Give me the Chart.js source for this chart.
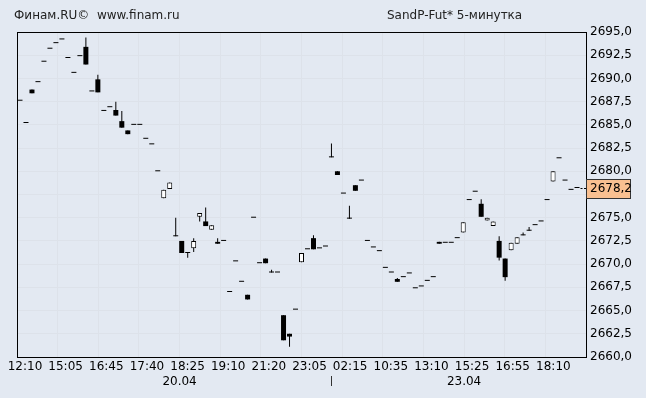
<!DOCTYPE html>
<html>
<head>
<meta charset="utf-8">
<script src="https://cdn.jsdelivr.net/npm/chart.js@4.4.1/dist/chart.umd.min.js"></script>
<style>
  html, body { margin: 0; padding: 0; background: #e3e9f2; }
  #wrap { position: relative; width: 646px; height: 398px; }
  .title { position: absolute; top: 8px; font: 12px "DejaVu Sans", sans-serif; color: #222; white-space: pre; }
</style>
</head>
<body>
<div id="wrap">
  <span class="title" style="left:14px">Финам.RU©  www.finam.ru</span>
  <span class="title" style="left:387px">SandP-Fut* 5-минутка</span>
  <canvas id="chart" width="646" height="398"></canvas>
</div>
<script>
// 5-minute candles
const open = [2687.6, 2685.2, 2688.8, 2689.6, 2691.8, 2693.2, 2693.8, 2694.2, 2692.2, 2690.6,
  2692.4, 2693.4, 2688.6, 2689.9, 2686.5, 2686.9, 2686.6, 2685.4, 2684.4, 2685.0,
  2685.0, 2683.5, 2682.9, 2680.0, 2677.1, 2678.1, 2673.0, 2672.5, 2671.2, 2671.7,
  2675.1, 2674.6, 2673.7, 2672.4, 2672.5, 2667.0, 2670.3, 2668.1, 2666.7, 2675.0,
  2670.1, 2670.6, 2669.1, 2669.1, 2664.5, 2662.5, 2665.1, 2670.2, 2671.6, 2672.8,
  2671.7, 2671.9, 2681.5, 2680.0, 2677.6, 2674.9, 2678.5, 2679.0, 2672.5, 2671.8,
  2671.4, 2669.6, 2669.1, 2668.4, 2668.6, 2669.0, 2667.4, 2667.6, 2668.2, 2668.6,
  2672.4, 2672.3, 2672.3, 2672.8, 2673.4, 2676.9, 2677.8, 2676.5, 2674.7, 2674.1,
  2672.5, 2670.6, 2671.5, 2672.2, 2673.1, 2673.6, 2674.2, 2674.6, 2676.9, 2678.9,
  2681.4, 2679.0, 2678.0, 2678.2];
const high = [2687.6, 2685.2, 2688.8, 2689.6, 2691.8, 2693.2, 2693.8, 2694.2, 2692.2, 2690.6,
  2692.4, 2694.4, 2688.6, 2690.4, 2686.5, 2686.9, 2687.5, 2686.5, 2684.4, 2685.0,
  2685.0, 2683.5, 2682.9, 2680.0, 2678.0, 2678.8, 2675.0, 2672.5, 2671.2, 2672.8,
  2675.5, 2676.1, 2674.2, 2672.8, 2672.5, 2667.0, 2670.3, 2668.1, 2666.7, 2675.0,
  2670.1, 2670.6, 2669.4, 2669.1, 2664.5, 2662.5, 2665.1, 2671.2, 2671.6, 2673.1,
  2671.7, 2671.9, 2683.0, 2680.0, 2677.6, 2676.3, 2678.5, 2679.0, 2672.5, 2671.8,
  2671.4, 2669.6, 2669.1, 2668.5, 2668.6, 2669.0, 2667.4, 2667.6, 2668.2, 2668.6,
  2672.4, 2672.3, 2672.3, 2672.8, 2674.5, 2676.9, 2677.8, 2677.0, 2675.0, 2674.6,
  2673.0, 2670.6, 2672.3, 2672.9, 2673.4, 2674.0, 2674.2, 2674.6, 2676.9, 2680.0,
  2681.4, 2679.0, 2678.0, 2678.2];
const low = [2687.6, 2685.2, 2688.4, 2689.6, 2691.8, 2693.2, 2693.8, 2694.2, 2692.2, 2690.6,
  2692.4, 2691.5, 2688.6, 2688.5, 2686.5, 2686.9, 2686.0, 2684.7, 2684.0, 2685.0,
  2685.0, 2683.5, 2682.9, 2680.0, 2677.1, 2678.1, 2673.0, 2671.2, 2670.7, 2671.3,
  2674.6, 2674.1, 2673.7, 2672.2, 2672.5, 2667.0, 2670.3, 2668.1, 2666.2, 2675.0,
  2670.1, 2670.1, 2669.1, 2669.1, 2661.8, 2661.1, 2665.1, 2670.2, 2671.6, 2671.6,
  2671.7, 2671.9, 2681.5, 2679.6, 2677.6, 2674.9, 2677.9, 2679.0, 2672.5, 2671.8,
  2671.4, 2669.6, 2669.1, 2668.1, 2668.6, 2669.0, 2667.4, 2667.6, 2668.2, 2668.6,
  2672.2, 2672.3, 2672.3, 2672.8, 2673.4, 2676.9, 2677.8, 2675.1, 2674.7, 2674.1,
  2670.4, 2668.2, 2671.5, 2672.2, 2673.1, 2673.6, 2674.2, 2674.6, 2676.9, 2678.9,
  2681.4, 2679.0, 2678.0, 2678.2];
const close = [2687.6, 2685.2, 2688.4, 2689.6, 2691.8, 2693.2, 2693.8, 2694.2, 2692.2, 2690.6,
  2692.4, 2691.5, 2688.6, 2688.5, 2686.5, 2686.9, 2686.0, 2684.7, 2684.0, 2685.0,
  2685.0, 2683.5, 2682.9, 2680.0, 2678.0, 2678.8, 2673.0, 2671.2, 2671.2, 2672.5,
  2675.5, 2674.1, 2674.2, 2672.2, 2672.5, 2667.0, 2670.3, 2668.1, 2666.2, 2675.0,
  2670.1, 2670.1, 2669.1, 2669.1, 2661.8, 2662.2, 2665.1, 2671.2, 2671.6, 2671.6,
  2671.7, 2671.9, 2681.5, 2679.6, 2677.6, 2674.9, 2677.9, 2679.0, 2672.5, 2671.8,
  2671.4, 2669.6, 2669.1, 2668.1, 2668.6, 2669.0, 2667.4, 2667.6, 2668.2, 2668.6,
  2672.2, 2672.3, 2672.3, 2672.8, 2674.5, 2676.9, 2677.8, 2675.1, 2675.0, 2674.6,
  2670.7, 2668.6, 2672.3, 2672.9, 2673.1, 2673.6, 2674.2, 2674.6, 2676.9, 2680.0,
  2681.4, 2679.0, 2678.0, 2678.2];

const timeLabels = ["12:10", "15:05", "16:45", "17:40", "18:25", "19:10", "21:20",
  "23:05", "02:15", "10:35", "13:10", "15:25", "16:55", "18:10", ""];
const dateLabels = ["", "", "", "", "20.04", "", "", "", "", "", "", "23.04", "", "", ""];
const dayBreak = 52;          // first candle of 23.04
const lastPrice = 2678.2;
const yMin = 2660, yMax = 2695, yStep = 2.5;

const slots = open.length + 1;   // one empty slot on the right
const labels = Array.from({ length: slots }, (_, i) => i);
const bodies = open.map((o, i) => [o, close[i]]);
const wicks = low.map((l, i) => [l, high[i]]);
const fmt = v => v.toFixed(1).replace(".", ",");

Chart.defaults.font.family = "DejaVu Sans";
Chart.defaults.font.size = 12;
Chart.defaults.color = "#000";

// bottom axes: fixed height, no extra side padding for edge labels
const fixBottom = h => s => {
  s.height = h;
  s.paddingLeft = 0;
  s.paddingRight = 0;
};

const frame = {
  id: "frame",
  afterDatasetsDraw(c) {
    const { ctx, chartArea: a, scales } = c;
    const y = Math.round(scales.y.getPixelForValue(lastPrice)) + 0.5;
    ctx.save();
    // current price dashes from last candle to the axis
    ctx.strokeStyle = "#000";
    ctx.lineWidth = 1;
    ctx.setLineDash([2, 1.5]);
    ctx.beginPath();
    ctx.moveTo(scales.x.getPixelForValue(open.length - 1) + 3.5, y);
    ctx.lineTo(a.right, y);
    ctx.stroke();
    ctx.setLineDash([]);
    // plot frame
    ctx.strokeRect(Math.round(a.left) + 0.5, Math.round(a.top) + 0.5,
      Math.round(a.right - a.left), Math.round(a.bottom - a.top));
    ctx.restore();
  },
  afterDraw(c) {
    const { ctx, chartArea: a, scales } = c;
    const y = Math.round(scales.y.getPixelForValue(lastPrice));
    ctx.save();
    ctx.fillStyle = "#f9c091";
    ctx.strokeStyle = "#333";
    ctx.fillRect(a.right, y - 9, 44, 19);
    ctx.strokeRect(Math.round(a.right) + 0.5, y - 8.5, 44, 19);
    ctx.fillStyle = "#000";
    ctx.font = "12px DejaVu Sans";
    ctx.textBaseline = "middle";
    ctx.fillText(fmt(lastPrice), a.right + 4, y + 1);
    // day separator under the axis
    const x = Math.round(scales.x.getPixelForValue(dayBreak)) + 0.5;
    ctx.beginPath();
    ctx.moveTo(x, a.bottom + 19);
    ctx.lineTo(x, a.bottom + 29);
    ctx.stroke();
    ctx.restore();
  }
};

new Chart(document.getElementById("chart"), {
  type: "bar",
  data: {
    labels,
    datasets: [{
      data: bodies,
      order: 0,
      grouped: false,
      barThickness: 5,
      minBarLength: 1,
      inflateAmount: 0,
      borderSkipped: false,
      backgroundColor: ctx => {
        const i = ctx.dataIndex;
        return close[i] > open[i] ? "#fff" : "#000";
      },
      borderColor: "#000",
      borderWidth: ctx => {
        const i = ctx.dataIndex;
        return close[i] > open[i] ? 1 : 0;
      }
    }, {
      data: wicks,
      order: 1,
      grouped: false,
      barThickness: 1,
      inflateAmount: 0,
      backgroundColor: "#000",
      borderWidth: 0
    }]
  },
  options: {
    animation: false,
    responsive: false,
    events: [],
    layout: { padding: { left: 17, top: 32, right: 0, bottom: 0 } },
    plugins: { legend: { display: false }, tooltip: { enabled: false } },
    scales: {
      x: { type: "category", display: false, offset: true },
      xt: {
        type: "linear", position: "bottom", min: 0, max: 14, weight: 0, offset: false,
        afterFit: fixBottom(18),
        grid: { color: "#dde2ea", drawTicks: false, offset: false },
        border: { display: false },
        ticks: {
          stepSize: 1, autoSkip: false, maxRotation: 0, padding: 3, labelOffset: 8,
          callback: v => timeLabels[v]
        }
      },
      xd: {
        type: "linear", position: "bottom", min: 0, max: 14, weight: 1, offset: false,
        afterFit: fixBottom(23),
        grid: { display: false, drawTicks: false, offset: false },
        border: { display: false },
        ticks: {
          stepSize: 1, autoSkip: false, maxRotation: 0, padding: 0,
          callback: v => dateLabels[v]
        }
      },
      y: {
        position: "right", min: yMin, max: yMax,
        afterFit: s => { s.width = 60; },
        grid: { color: "#dde2ea", drawTicks: false },
        border: { display: false },
        ticks: { stepSize: yStep, padding: 4, callback: v => fmt(v) }
      }
    }
  },
  plugins: [frame]
});
</script>
</body>
</html>
